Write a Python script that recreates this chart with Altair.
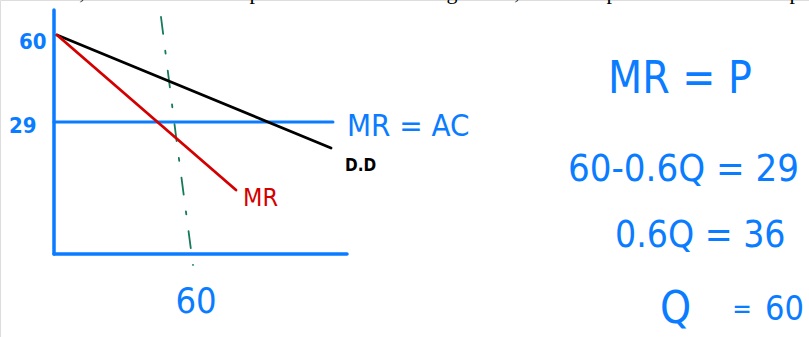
import altair as alt
import pandas as pd

# Diagram units: quantity to the right, price upward, origin at the axes corner.
Q_DOMAIN = [-54, 755]
P_DOMAIN = [-83, 254]

# Axes of the diagram
axis_q = [0, 293]
axis_p = [0, 244]

# Demand curve (D = D)
demand_q = [3, 277]
demand_p = [219, 106]

# Marginal revenue curve
mr_q = [3, 182]
mr_p = [219, 64]

# MR = AC level
mrac_q = [0, 279]
mrac_p = [132, 132]

# Quantity guide
guide_q = [107, 123, 139]
guide_p = [237, 110, -11]

# Hand-written price labels on the vertical axis
price_labels = ["60", "29"]
price_lab_q = [-35, -45]
price_lab_p = [212, 128]

# Working on the right-hand side
eq_lines = ["MR = P", "60-0.6Q = 29", "0.6Q = 36"]
eq_q = [554, 514, 561]
eq_p = [174, 84, 18]

# Final answer, written with wide gaps
answer_parts = ["Q", "=", "60"]
answer_q = [606, 688, 711]
answer_p = [-56, -56, -56]

BLUE = "#0a7cff"
RED = "#d40000"
GREEN = "#16795a"
HAND = "Liberation Sans Narrow, DejaVu Sans Condensed, sans-serif"

xs = alt.Scale(domain=Q_DOMAIN, nice=False, zero=False)
ys = alt.Scale(domain=P_DOMAIN, nice=False, zero=False)


def line(qs, ps, color, width, dash=None):
    df = pd.DataFrame({"q": qs, "p": ps, "o": range(len(qs))})
    kw = dict(color=color, strokeWidth=width, strokeCap="round", clip=False)
    if dash:
        kw["strokeDash"] = dash
    return alt.Chart(df).mark_line(**kw).encode(
        x=alt.X("q:Q", scale=xs, axis=None),
        y=alt.Y("p:Q", scale=ys, axis=None),
        order="o:Q",
    )


def text(labels, qs, ps, color, size, align="left", weight="normal",
         font=HAND, baseline="middle"):
    df = pd.DataFrame({"t": labels, "q": qs, "p": ps})
    return alt.Chart(df).mark_text(
        color=color, fontSize=size, align=align, baseline=baseline,
        font=font, fontWeight=weight, clip=False,
    ).encode(
        x=alt.X("q:Q", scale=xs, axis=None),
        y=alt.Y("p:Q", scale=ys, axis=None),
        text="t:N",
    )


layers = [
    line([0, 0], axis_p, BLUE, 3.5),
    line(axis_q, [0, 0], BLUE, 3.5),
    line(mrac_q, mrac_p, BLUE, 3),
    line(guide_q, guide_p, GREEN, 1.8, dash=[17, 17, 3, 17]),
    line(demand_q, demand_p, "#000000", 2.8),
    line(mr_q, mr_p, RED, 2.8),
    text(price_labels, price_lab_q, price_lab_p, BLUE, 22, weight="bold"),
    text(["60"], [142], [-48], BLUE, 36, align="center"),
    text(["MR = AC"], [293], [127], BLUE, 31),
    text(["D.D"], [291], [88], "#000000", 17, weight="bold"),
    text(["MR"], [189], [56], RED, 25),
    text(eq_lines[:1], eq_q[:1], eq_p[:1], BLUE, 44),
    text(eq_lines[1:2], eq_q[1:2], eq_p[1:2], BLUE, 38),
    text(eq_lines[2:3], eq_q[2:3], eq_p[2:3], BLUE, 37),
    text(answer_parts[:1], answer_q[:1], answer_p[:1], BLUE, 44),
    text(answer_parts[1:2], answer_q[1:2], answer_p[1:2], BLUE, 26, align="center"),
    text(answer_parts[2:], answer_q[2:], answer_p[2:], BLUE, 34),
    # bottoms of the line of print above the figure
    text([",", "p", "g", ",", "p", "p"],
         [28, 201, 398, 463, 558, 741], [255, 255, 255, 255, 255, 255],
         "#000000", 22, align="center", font="Liberation Serif, serif",
         baseline="alphabetic"),
]

chart = alt.layer(*layers).properties(
    width=809, height=337, padding=0,
    autosize=alt.AutoSizeParams(type="none"),
).configure_view(stroke=None).configure(background="white")

chart.save("out.html", embed_options={"renderer": "svg", "actions": False})
